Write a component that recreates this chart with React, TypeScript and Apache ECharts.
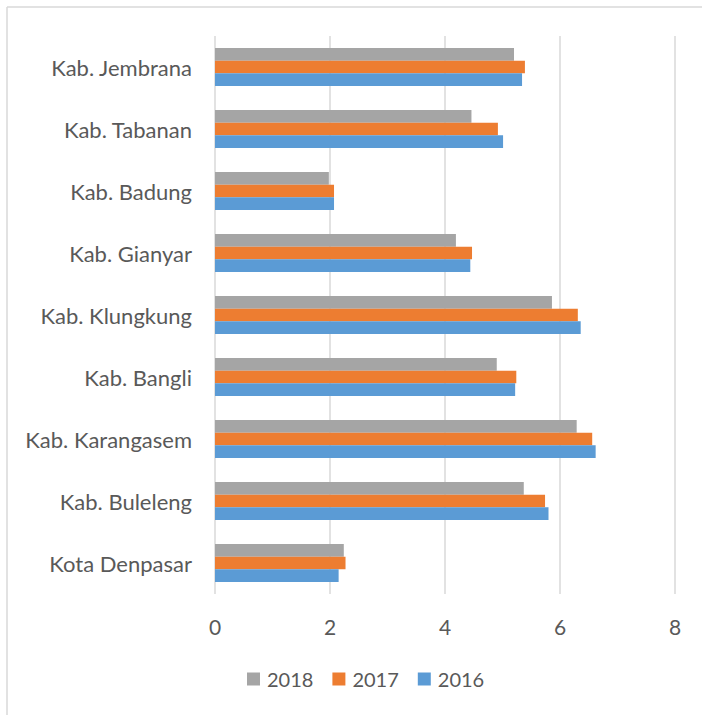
import React, { useEffect, useRef } from "react";
import * as echarts from "echarts";

const categories = [
  "Kota Denpasar",
  "Kab. Buleleng",
  "Kab. Karangasem",
  "Kab. Bangli",
  "Kab. Klungkung",
  "Kab. Gianyar",
  "Kab. Badung",
  "Kab. Tabanan",
  "Kab. Jembrana",
];
const values2016 = [2.15, 5.8, 6.62, 5.22, 6.36, 4.44, 2.07, 5.01, 5.34];
const values2017 = [2.27, 5.74, 6.56, 5.24, 6.31, 4.47, 2.07, 4.92, 5.39];
const values2018 = [2.24, 5.37, 6.29, 4.9, 5.86, 4.19, 1.98, 4.46, 5.2];
const xTicks = { min: 0, max: 8, interval: 2 };

const FONT = "Lato, 'Liberation Sans', Arial, sans-serif";
const TEXT = "#595959";

export default function App() {
  const ref = useRef<HTMLDivElement>(null);
  useEffect(() => {
    if (!ref.current) return;
    const chart = echarts.init(ref.current, null, { renderer: "svg" });
    const barCommon = { type: "bar" as const, barWidth: 12.7, barGap: "0%" };
    chart.setOption({
      animation: false,
      backgroundColor: "#ffffff",
      textStyle: { fontFamily: FONT },
      grid: { left: 215, right: 27, top: 36, bottom: 121, containLabel: false },
      xAxis: {
        type: "value",
        min: xTicks.min,
        max: xTicks.max,
        interval: xTicks.interval,
        axisLine: { show: false },
        axisTick: { show: false },
        splitLine: { show: true, lineStyle: { color: "#D9D9D9", width: 1.5 } },
        axisLabel: { color: TEXT, fontSize: 21, fontFamily: FONT, margin: 22 },
      },
      yAxis: {
        type: "category",
        data: categories,
        axisLine: { show: false },
        axisTick: { show: false },
        axisLabel: { color: TEXT, fontSize: 22, fontFamily: FONT, margin: 23 },
      },
      legend: {
        data: ["2018", "2017", "2016"],
        left: 242,
        top: 664,
        itemWidth: 13,
        itemHeight: 13,
        itemGap: 19,
        icon: "rect",
        textStyle: { color: TEXT, fontSize: 20, fontFamily: FONT, padding: [0, 0, 0, 2] },
      },
      series: [
        { ...barCommon, name: "2018", data: values2018, itemStyle: { color: "#A5A5A5" } },
        { ...barCommon, name: "2017", data: values2017, itemStyle: { color: "#ED7D31" } },
        { ...barCommon, name: "2016", data: values2016, itemStyle: { color: "#5B9BD5" } },
      ],
      graphic: [
        { type: "line", shape: { x1: 7, y1: 7, x2: 702, y2: 7 }, style: { stroke: "#D9D9D9", lineWidth: 1.5 } },
        { type: "line", shape: { x1: 7, y1: 7, x2: 7, y2: 715 }, style: { stroke: "#D9D9D9", lineWidth: 1.5 } },
      ],
    });
    return () => chart.dispose();
  }, []);
  return (
    <div style={{ position: "absolute", left: 0, top: 0, width: 702, height: 715 }}>
      <div ref={ref} style={{ width: 702, height: 715 }} />
    </div>
  );
}
